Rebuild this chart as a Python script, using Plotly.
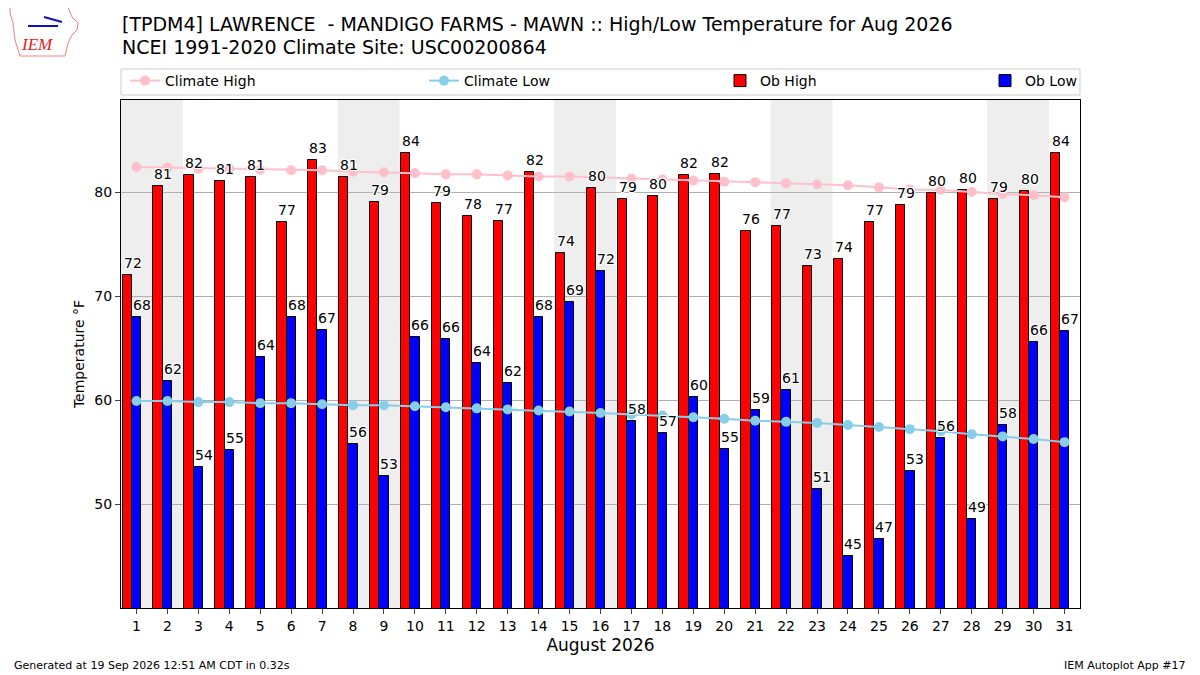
import plotly.graph_objects as go

# August 2026 daily obs and NCEI 1991-2020 climatology
days = list(range(1, 32))
ob_high = [72.0, 80.6, 81.6, 81.1, 81.4, 77.1, 83.1, 81.4, 79.0, 83.8,
           78.9, 77.7, 77.2, 81.9, 74.1, 80.4, 79.3, 79.6, 81.6, 81.7,
           76.3, 76.7, 72.9, 73.6, 77.1, 78.8, 79.9, 80.2, 79.3, 80.1, 83.8]
ob_low = [68.0, 61.8, 53.6, 55.2, 64.1, 68.0, 66.7, 55.8, 52.7, 66.1,
          65.9, 63.6, 61.6, 68.0, 69.4, 72.4, 58.0, 56.8, 60.3, 55.3,
          59.0, 61.0, 51.4, 45.0, 46.6, 53.2, 56.3, 48.6, 57.6, 65.6, 66.6]
clim_high = [82.4, 82.35, 82.25, 82.25, 82.15, 82.1, 82.1, 81.95, 81.9, 81.8,
             81.7, 81.7, 81.6, 81.5, 81.5, 81.4, 81.3, 81.2, 81.1, 81.0,
             80.95, 80.85, 80.75, 80.65, 80.45, 80.25, 80.2, 80.0, 79.8, 79.7, 79.5]
clim_low = [59.9, 59.9, 59.8, 59.8, 59.7, 59.7, 59.6, 59.5, 59.5, 59.4,
            59.3, 59.2, 59.1, 59.0, 58.9, 58.75, 58.6, 58.5, 58.35, 58.2,
            58.0, 57.9, 57.8, 57.6, 57.4, 57.2, 57.0, 56.7, 56.5, 56.25, 55.95]
saturdays = [1, 8, 15, 22, 29]

# the page has an 8px body margin, so the figure is drawn from (8, 8)
OFF = 8
W, H = 1200 - OFF, 675 - OFF
# plot area in page pixels
L, R, T, B = 121, 1080, 100, 608


def px(x):
    return (x - L) / (R - L)


def py(y):
    return (B - y) / (B - T)


halo = "1px 1px 0 white, -1px -1px 0 white, 1px -1px 0 white, -1px 1px 0 white"

fig = go.Figure()
fig.add_trace(go.Bar(x=days, y=ob_high, width=0.3, offset=-0.45, name='Ob High',
                     marker=dict(color='red', line=dict(color='black', width=1)),
                     legend='legend3', hoverinfo='y'))
fig.add_trace(go.Bar(x=days, y=ob_low, width=0.3, offset=-0.15, name='Ob Low',
                     marker=dict(color='blue', line=dict(color='black', width=1)),
                     legend='legend4', hoverinfo='y'))
fig.add_trace(go.Scatter(x=days, y=clim_high, mode='lines+markers', name='Climate High',
                         line=dict(color='pink', width=2), marker=dict(size=10, color='pink'),
                         legend='legend', showlegend=True))
fig.add_trace(go.Scatter(x=days, y=clim_low, mode='lines+markers', name='Climate Low',
                         line=dict(color='skyblue', width=2), marker=dict(size=10, color='skyblue'),
                         legend='legend2'))

annotations = []
# value labels, left aligned on each bar
for d, hi, lo in zip(days, ob_high, ob_low):
    for xv, v in ((d - 0.45, hi), (d - 0.15, lo)):
        annotations.append(dict(x=xv, y=v, xref='x', yref='y', text=f"{v:.0f}",
                                xanchor='left', yanchor='bottom', yshift=3,
                                showarrow=False, borderpad=0,
                                font=dict(size=14, color='black', shadow=halo)))

shapes = []
for s in saturdays:
    shapes.append(dict(type='rect', xref='x', yref='paper', x0=s - 0.5, x1=s + 1.5,
                       y0=0, y1=1, fillcolor='#eeeeee', line=dict(width=0), layer='below'))
# legend frame
shapes.append(dict(type='rect', xref='paper', yref='paper', x0=0, x1=1,
                   y0=py(95), y1=py(69), line=dict(color='#cccccc', width=1)))
# rough logo outline
iowa = [(10, 5), (67, 5), (72, 17), (78, 23), (77, 30), (72, 35), (68, 43),
        (66, 52), (65, 56), (20, 56), (15, 40), (13, 23), (10, 13)]
path = "M " + " L ".join(f"{px(a):.4f},{py(b):.4f}" for a, b in iowa) + " Z"
shapes.append(dict(type='path', xref='paper', yref='paper', path=path,
                   line=dict(color='#f08080', width=1)))
shapes.append(dict(type='line', xref='paper', yref='paper', x0=px(28), x1=px(58),
                   y0=py(26), y1=py(26), line=dict(color='#1010c0', width=2)))
shapes.append(dict(type='line', xref='paper', yref='paper', x0=px(44), x1=px(62),
                   y0=py(17), y1=py(22), line=dict(color='#1010c0', width=2)))

annotations += [
    dict(xref='paper', yref='paper', x=px(120), y=py(24), xanchor='left', yanchor='middle',
         text='[TPDM4] LAWRENCE \u00a0- MANDIGO FARMS - MAWN :: High/Low Temperature for Aug 2026',
         showarrow=False, font=dict(size=19, color='black')),
    dict(xref='paper', yref='paper', x=px(120), y=py(47), xanchor='left', yanchor='middle',
         text='NCEI 1991-2020 Climate Site: USC00200864',
         showarrow=False, font=dict(size=19, color='black')),
    dict(xref='paper', yref='paper', x=px(12), y=py(665), xanchor='left', yanchor='middle',
         text='Generated at 19 Sep 2026 12:51 AM CDT in 0.32s',
         showarrow=False, font=dict(size=11, color='black')),
    dict(xref='paper', yref='paper', x=px(1188), y=py(665), xanchor='right', yanchor='middle',
         text='IEM Autoplot App #17',
         showarrow=False, font=dict(size=11, color='black')),
    dict(xref='paper', yref='paper', x=px(37), y=py(45), xanchor='center', yanchor='middle',
         text='<i>IEM</i>', showarrow=False,
         font=dict(size=17, color='#e02020', family='Liberation Serif')),
]

leg = dict(orientation='h', yanchor='middle', y=py(81), xanchor='left',
           bgcolor='rgba(0,0,0,0)', borderwidth=0, font=dict(size=14), visible=True)

fig.update_layout(
    width=W, height=H,
    margin=dict(l=L - OFF, r=1200 - R, t=T - OFF, b=675 - B),
    paper_bgcolor='white', plot_bgcolor='white',
    font=dict(family='DejaVu Sans', color='black'),
    barmode='overlay', bargap=0, showlegend=True,
    shapes=shapes, annotations=annotations,
    legend=dict(leg, x=px(125)),
    legend2=dict(leg, x=px(424)),
    legend3=dict(leg, x=px(720)),
    legend4=dict(leg, x=px(985)),
    xaxis=dict(range=[0.5, 31.5], tickmode='array', tickvals=days,
               ticktext=[str(d) for d in days], ticks='outside', ticklen=5,
               showgrid=False, showline=True, linecolor='black', mirror=True,
               tickfont=dict(size=14), zeroline=False,
               title=dict(text='August 2026', font=dict(size=17), standoff=6)),
    yaxis=dict(range=[40, 88.85], tickvals=[50, 60, 70, 80], ticks='outside', ticklen=5,
               showgrid=True, gridcolor='#b0b0b0', gridwidth=1,
               showline=True, linecolor='black', mirror=True, zeroline=False,
               tickfont=dict(size=14),
               title=dict(text='Temperature °F', font=dict(size=14), standoff=6)),
)

fig.write_html("out.html")
